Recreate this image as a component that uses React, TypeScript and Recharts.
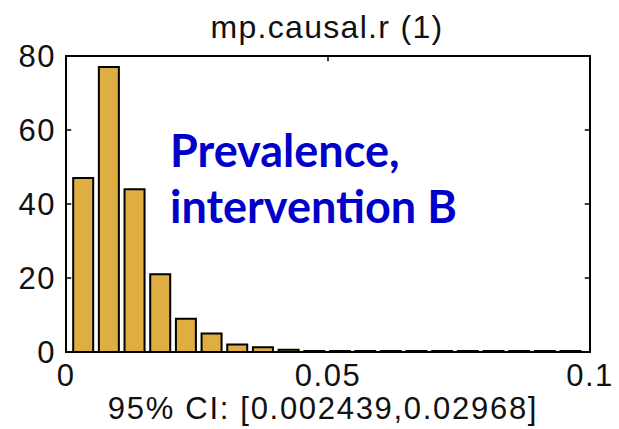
import { BarChart, Bar, XAxis, YAxis, ReferenceArea, ReferenceLine } from "recharts";

// histogram bin centres (x) and counts
const binCenters = [
  0.0032, 0.0081, 0.013, 0.0179, 0.0228, 0.0277, 0.0326, 0.0375, 0.0424, 0.0473,
  0.0522, 0.057, 0.0619, 0.0668, 0.0717, 0.0766, 0.0815, 0.0864, 0.0913, 0.0962,
];
const counts = [47, 77, 44, 21, 9, 5, 2, 1.3, 0.6, 0, 0, 0, 0, 0, 0, 0, 0, 0, 0, 0];

const xTicks = [0, 0.05, 0.1];
const yTicks = [0, 20, 40, 60, 80];
const innerYTicks = [20, 40, 60];

const titleText = "mp.causal.r (1)";
const ciText = "95% CI: [0.002439,0.02968]";
const noteLines = ["Prevalence,", "intervention B"];

const chartData = binCenters.map((x, i) => ({ x, count: counts[i] }));

const W = 619;
const H = 429;
const matlabFont = "'Liberation Sans', Arial, sans-serif";
const tickStyle = { fontFamily: matlabFont, fontSize: 31, fill: "#111", letterSpacing: 1.5 };

export default function App() {
  return (
    <div style={{ position: "absolute", left: 0, top: 0, width: W, height: H, background: "#fff" }}>
      <BarChart
        width={W}
        height={H}
        data={chartData}
        margin={{ top: 56, right: 29, bottom: 27, left: 0 }}
      >
        <XAxis
          dataKey="x"
          type="number"
          domain={[0, 0.1]}
          ticks={xTicks}
          interval={0}
          allowDataOverflow
          tickFormatter={(v: number) => String(v)}
          height={50}
          tickSize={0}
          tickMargin={12}
          axisLine={false}
          tickLine={false}
          tick={tickStyle}
        />
        <YAxis
          domain={[0, 80]}
          ticks={yTicks}
          interval={0}
          width={66}
          tickSize={0}
          tickMargin={10}
          axisLine={false}
          tickLine={false}
          tick={tickStyle}
        />
        <Bar
          dataKey="count"
          fill="#dfae42"
          stroke="#000"
          strokeWidth={2}
          barSize={20}
          minPointSize={1}
          isAnimationActive={false}
        />
        {/* inward ticks, matlab style */}
        {innerYTicks.map((v) => (
          <ReferenceLine
            key={`l${v}`}
            segment={[{ x: 0, y: v }, { x: 0.001, y: v }]}
            stroke="#000"
            strokeWidth={1.5}
          />
        ))}
        {innerYTicks.map((v) => (
          <ReferenceLine
            key={`r${v}`}
            segment={[{ x: 0.099, y: v }, { x: 0.1, y: v }]}
            stroke="#000"
            strokeWidth={1.5}
          />
        ))}
        <ReferenceLine segment={[{ x: 0.05, y: 80 }, { x: 0.05, y: 78.6 }]} stroke="#000" strokeWidth={1.5} />
        <ReferenceArea
          x1={0}
          x2={0.1}
          y1={0}
          y2={80}
          fill="none"
          stroke="#000"
          strokeWidth={2}
          ifOverflow="visible"
        />
      </BarChart>
      <svg
        width={W}
        height={H}
        style={{ position: "absolute", left: 0, top: 0, pointerEvents: "none" }}
      >
        <text x={327} y={38} textAnchor="middle" fontFamily={matlabFont} fontSize={32} letterSpacing={1.3} fill="#111">
          {titleText}
        </text>
        <text x={323} y={419} textAnchor="middle" fontFamily={matlabFont} fontSize={31} letterSpacing={1.7} fill="#111">
          {ciText}
        </text>
        {noteLines.map((line, i) => (
          <text
            key={line}
            x={170}
            y={167 + i * 56}
            fontFamily="Lato, 'Noto Sans', sans-serif"
            fontWeight={700}
            fontSize={45}
            fill="#0000c8"
          >
            {line}
          </text>
        ))}
      </svg>
    </div>
  );
}
